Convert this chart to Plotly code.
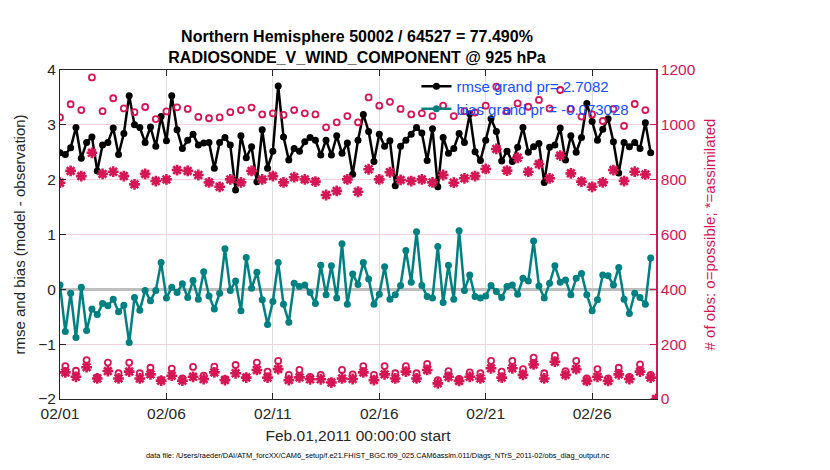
import pandas as pd
import plotly.graph_objects as go

# 6-hourly bins, Feb 1 2011 00Z .. Mar 1 2011 00Z (last bin has no obs)
times = pd.date_range("2011-02-01 00:00", periods=113, freq="6h")

rmse = [
    2.49, 2.46, 2.58, 2.95, 2.39, 2.68, 2.78, 2.16, 2.63, 2.68, 2.94, 2.46,
    2.84, 3.53, 3.00, 2.95, 2.68, 2.96, 2.61, 3.15, 2.71, 3.53, 2.91, 2.57,
    2.72, 2.83, 2.63, 2.67, 2.68, 2.21, 2.68, 2.77, 2.63, 1.81, 2.80, 2.40,
    2.60, 1.96, 2.91, 2.21, 2.52, 3.71, 2.78, 2.36, 2.57, 2.52, 2.69, 2.77,
    2.72, 2.45, 2.72, 2.45, 2.80, 2.48, 2.67, 2.10, 2.72, 3.19, 2.88, 2.33,
    2.83, 2.61, 2.71, 1.89, 2.61, 2.72, 2.83, 2.95, 2.85, 2.35, 2.93, 1.87,
    2.77, 2.48, 2.57, 2.84, 2.68, 3.20, 2.51, 2.35, 2.72, 3.11, 2.88, 2.34,
    2.52, 2.33, 2.59, 2.95, 2.50, 2.60, 2.66, 1.95, 2.59, 2.63, 2.94, 2.36,
    2.80, 2.50, 2.77, 3.39, 3.06, 2.72, 2.92, 3.11, 2.69, 2.12, 2.68, 2.60,
    2.68, 2.57, 3.04, 2.49, None,
]

bias = [
    0.08, -0.77, -0.07, -0.88, 0.04, -0.75, -0.36, -0.46, -0.26, -0.30, -0.18, -0.41,
    -0.29, -0.97, -0.15, -0.38, -0.02, -0.21, -0.02, 0.49, -0.16, 0.04, -0.06, 0.10,
    -0.15, 0.16, -0.18, 0.32, -0.12, -0.36, -0.07, 0.74, -0.02, 0.15, -0.39, 0.58,
    0.02, 0.31, -0.19, -0.64, -0.22, 0.49, -0.27, -0.60, 0.11, 0.05, 0.08, -0.06,
    -0.26, 0.44, -0.10, 0.43, -0.16, 0.83, -0.27, 0.28, 0.09, 0.49, 0.19, -0.27,
    -0.09, 0.41, -0.18, -0.10, 0.07, 0.71, 0.13, 1.05, 0.07, -0.13, -0.16, 0.78,
    -0.24, 0.44, -0.18, 1.07, -0.02, 0.26, -0.13, -0.16, -0.12, 0.07, -0.04, -0.15,
    0.05, 0.08, -0.09, 0.20, 0.15, 0.88, 0.06, -0.16, 0.11, 0.43, 0.13, 0.17,
    -0.10, 0.20, 0.29, -0.10, -0.39, -0.19, 0.26, 0.25, 0.08, 0.40, -0.18, -0.44,
    -0.07, -0.15, -0.27, 0.57, None,
]

n_possible = [
    1027, 120, 1075, 103, 1054, 142, 1173, 79, 1050, 133, 1097, 94,
    1060, 133, 1046, 94, 1065, 114, 1021, 70, 1049, 111, 1064, 75,
    1058, 117, 1029, 85, 1024, 118, 1027, 72, 1046, 124, 1054, 80,
    1063, 133, 1038, 100, 1042, 139, 1036, 88, 1054, 106, 1042, 81,
    1038, 88, 991, 62, 1009, 106, 1032, 90, 1009, 120, 1100, 88,
    1070, 120, 1084, 94, 1058, 120, 1038, 94, 1042, 128, 1032, 69,
    1070, 102, 1032, 73, 1050, 97, 1045, 94, 1070, 139, 1139, 100,
    1050, 139, 1078, 109, 1066, 151, 1091, 94, 1060, 158, 1127, 102,
    1058, 139, 1030, 75, 1038, 109, 1014, 75, 1058, 114, 996, 81,
    1076, 126, 1054, 88, 0,
]

n_used = [
    789, 97, 832, 81, 813, 116, 898, 75, 821, 102, 829, 75,
    813, 100, 783, 75, 821, 90, 795, 67, 801, 85, 835, 67,
    832, 81, 817, 73, 790, 97, 774, 69, 801, 94, 790, 78,
    832, 106, 801, 78, 813, 109, 790, 69, 809, 79, 801, 72,
    793, 72, 744, 60, 759, 75, 801, 73, 756, 97, 838, 69,
    801, 90, 827, 75, 799, 100, 795, 75, 801, 106, 790, 57,
    817, 81, 789, 66, 805, 81, 813, 75, 839, 112, 912, 78,
    833, 112, 880, 88, 829, 126, 857, 75, 805, 136, 888, 88,
    823, 109, 793, 66, 774, 81, 790, 66, 835, 90, 795, 73,
    829, 100, 819, 78, 0,
]

rmse_label = "rmse grand pr= 2.7082"
bias_label = "bias grand pr = -0.073028"
title_lines = ["Northern Hemisphere 50002 / 64527 = 77.490%",
               "RADIOSONDE_V_WIND_COMPONENT @ 925 hPa"]
data_file = ("data file: /Users/raeder/DAI/ATM_forcXX/CAM6_setup/"
             "f.e21.FHIST_BGC.f09_025.CAM6assim.011/Diags_NTrS_2011-02/obs_diag_output.nc")

FONT = "Liberation Sans, Arial, sans-serif"
DARK = "#262626"
CRIMSON = "rgb(214,22,84)"
TEAL = "rgb(0,128,128)"

# page body has an 8px margin, so the figure is a bit smaller than the window
W, H = 822, 462
L, T, PW, PH = 50, 62, 598, 329

fig = go.Figure()

fig.add_trace(go.Scatter(
    x=times, y=rmse, mode="lines+markers", name=rmse_label,
    line=dict(color="black", width=2.5),
    marker=dict(color="black", size=7, symbol="circle"),
))
fig.add_trace(go.Scatter(
    x=times, y=bias, mode="lines+markers", name=bias_label,
    line=dict(color=TEAL, width=2.5),
    marker=dict(color=TEAL, size=7, symbol="circle"),
))

# observation counts on right axis
fig.add_trace(go.Scatter(
    x=times, y=n_possible, mode="markers", yaxis="y2", showlegend=False,
    marker=dict(symbol="circle-open", size=6, color=CRIMSON, line=dict(width=1.8, color=CRIMSON)),
))
fig.add_trace(go.Scatter(
    x=times, y=n_used, mode="markers", yaxis="y2", showlegend=False,
    marker=dict(symbol="asterisk-open", size=9, color=CRIMSON, line=dict(width=2.6, color=CRIMSON)),
))

fig.update_layout(
    width=W, height=H,
    margin=dict(l=L, r=W - L - PW, t=T, b=H - T - PH),
    paper_bgcolor="white", plot_bgcolor="white",
    font=dict(family=FONT, size=15, color=DARK),
    title=dict(
        text="<b>" + title_lines[0] + "</b><br><b>" + title_lines[1] + "</b>",
        x=(L + PW / 2) / W, xanchor="center", y=1 - 34 / H, yanchor="top",
        font=dict(family=FONT, size=16, color="black"),
    ),
    showlegend=True,
    legend=dict(
        x=0.598, y=1.0, xanchor="left", yanchor="top",
        bgcolor="rgba(0,0,0,0)", borderwidth=0,
        font=dict(family=FONT, size=15, color="rgb(20,80,255)"),
        tracegroupgap=0, itemwidth=30,
    ),
    xaxis=dict(
        type="date",
        range=["2011-02-01 00:00", "2011-03-01 00:00"],
        tick0="2011-02-01", dtick=5 * 86400000, tickformat="%m/%d",
        ticks="inside", ticklen=6, tickcolor=DARK,
        showline=True, linecolor=DARK, linewidth=1, mirror="ticks",
        showgrid=True, gridcolor="rgb(222,222,222)", gridwidth=1,
        zeroline=False,
        title=dict(text="Feb.01,2011 00:00:00 start", standoff=9,
                   font=dict(family=FONT, size=15.5, color=DARK)),
        tickfont=dict(family=FONT, size=15.5, color=DARK),
    ),
    yaxis=dict(
        range=[-2, 4], dtick=1,
        ticks="inside", ticklen=6, tickcolor=DARK,
        showline=True, linecolor=DARK, linewidth=1,
        showgrid=True, gridcolor="rgb(244,208,222)", gridwidth=1,
        zeroline=True, zerolinecolor="rgb(190,190,190)", zerolinewidth=2.5,
        title=dict(text="rmse and bias (model - observation)", standoff=8,
                   font=dict(family=FONT, size=15, color=DARK)),
        tickfont=dict(family=FONT, size=15.5, color=DARK),
    ),
    yaxis2=dict(
        range=[0, 1200], dtick=200, overlaying="y", side="right",
        ticks="inside", ticklen=6, tickcolor=CRIMSON,
        showline=True, linecolor=CRIMSON, linewidth=1.5,
        showgrid=False, zeroline=False,
        title=dict(text="# of obs: o=possible; *=assimilated", standoff=10,
                   font=dict(family=FONT, size=15, color=CRIMSON)),
        tickfont=dict(family=FONT, size=15.5, color=CRIMSON),
    ),
)

fig.add_annotation(
    text=data_file, xref="paper", yref="paper",
    x=0.533, y=-0.173, xanchor="center", yanchor="middle", showarrow=False,
    font=dict(family=FONT, size=7.4, color="black"),
)

fig.write_html("out.html")
